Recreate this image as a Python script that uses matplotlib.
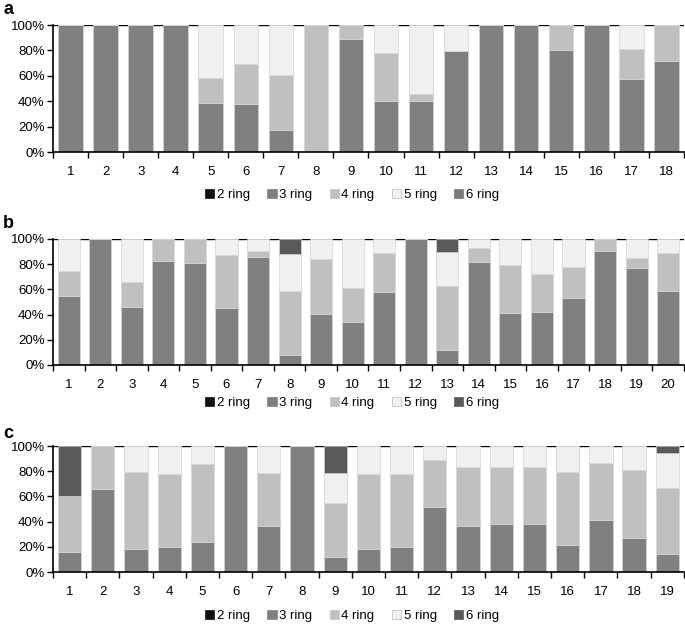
import numpy as np
import matplotlib.pyplot as plt
from matplotlib.patches import Patch

plt.rcParams['font.family'] = ['Liberation Sans', 'DejaVu Sans']

rings = ['2 ring', '3 ring', '4 ring', '5 ring', '6 ring']

# panel a: share (%) of 3 ring and 4 ring, rest is 5 ring
a_r3 = [100, 100, 100, 100, 38.9, 37.9, 17.4, 0, 88.9, 40.0, 40.5, 79.5, 100, 100, 80.5, 100, 57.6, 71.3]
a_r4 = [0, 0, 0, 0, 19.0, 31.3, 43.4, 100, 11.1, 38.2, 5.0, 0, 0, 0, 19.5, 0, 23.4, 28.7]
a_r6 = [0] * 18

# panel b
b_r3 = [54.6, 100, 46.2, 82.6, 81.3, 45.4, 86.0, 7.7, 40.4, 33.8, 58.0, 100, 11.9, 82.0, 41.2, 41.7, 53.0, 90.5, 76.8, 58.6]
b_r4 = [20.3, 0, 19.8, 17.4, 18.7, 41.7, 4.2, 51.4, 43.5, 27.4, 30.9, 0, 51.1, 11.1, 38.5, 30.9, 24.6, 9.5, 7.9, 30.1]
b_r6 = [0, 0, 0, 0, 0, 0, 0, 11.6, 0, 0, 0, 0, 10.0, 0, 0, 0, 0, 0, 0, 0]

# panel c
c_r3 = [15.6, 65.9, 18.0, 19.8, 23.8, 100, 36.8, 100, 11.9, 18.3, 19.8, 51.9, 36.5, 37.8, 38.1, 21.4, 41.0, 27.0, 14.0]
c_r4 = [45.0, 34.1, 61.1, 57.7, 61.9, 0, 42.0, 0, 42.9, 59.7, 57.7, 37.0, 46.8, 45.5, 45.2, 57.7, 45.2, 54.0, 52.4]
c_r6 = [39.4, 0, 0, 0, 0, 0, 0, 0, 21.2, 0, 0, 0, 0, 0, 0, 0, 0, 0, 5.8]

colors_a = ['#111111', '#808080', '#c0c0c0', '#f0f0f0', '#7a7a7a']
colors_bc = ['#111111', '#808080', '#c0c0c0', '#f0f0f0', '#595959']

fig = plt.figure(figsize=(6.85, 6.24), dpi=100)

panels = [
    ('a', a_r3, a_r4, a_r6, colors_a, [0.0774, 0.7564, 0.921, 0.2035], 195, 10),
    ('b', b_r3, b_r4, b_r6, colors_bc, [0.0774, 0.4151, 0.921, 0.2019], 403, 223),
    ('c', c_r3, c_r4, c_r6, colors_bc, [0.0774, 0.0833, 0.921, 0.2019], 616, 433),
]

for name, r3, r4, r6, cols, pos, leg_y, lab_y in panels:
    ax = fig.add_axes(pos)
    r3 = np.array(r3, float)
    r4 = np.array(r4, float)
    r6 = np.array(r6, float)
    r5 = 100 - r3 - r4 - r6
    n = len(r3)
    x = np.arange(1, n + 1)
    ax.axhline(100, color='black', lw=1.0, zorder=0)
    bottom = np.zeros(n)
    for vals, c in zip([r3, r4, r5, r6], cols[1:]):
        ax.bar(x, vals, 0.7, bottom=bottom, color=c, edgecolor='#d4d4d4', linewidth=0.5, zorder=2)
        bottom = bottom + vals
    ax.set_xlim(0.5, n + 0.5)
    ax.set_ylim(0, 100)
    ax.set_yticks(np.arange(0, 101, 20))
    ax.set_yticklabels([f'{v}%' for v in range(0, 101, 20)])
    ax.set_xticks(x)
    ax.set_xticklabels([str(i) for i in x])
    ax.set_xticks(np.arange(0.5, n + 1), minor=True)
    ax.tick_params(axis='x', which='major', length=0, pad=10, labelsize=9.5)
    ax.tick_params(axis='x', which='minor', length=4, direction='out', width=1)
    ax.tick_params(axis='y', length=4, direction='out', width=1, labelsize=9.5, pad=2)
    for s in ['top', 'right']:
        ax.spines[s].set_visible(False)
    ax.spines['left'].set_linewidth(1.2)
    ax.spines['bottom'].set_linewidth(1.2)

    handles = [Patch(facecolor=c, edgecolor='#bbbbbb' if i == 3 else c, linewidth=0.5) for i, c in enumerate(cols)]
    fig.legend(handles, rings, loc='center', bbox_to_anchor=(352 / 685, 1 - leg_y / 624),
               ncol=5, frameon=False, fontsize=9.5, handlelength=0.7, handleheight=0.7,
               handletextpad=0.2, columnspacing=1.3)
    fig.text(3 / 685, 1 - lab_y / 624, name, fontsize=13, fontweight='bold', va='center', ha='left')

fig.savefig('out.png', dpi=100)
